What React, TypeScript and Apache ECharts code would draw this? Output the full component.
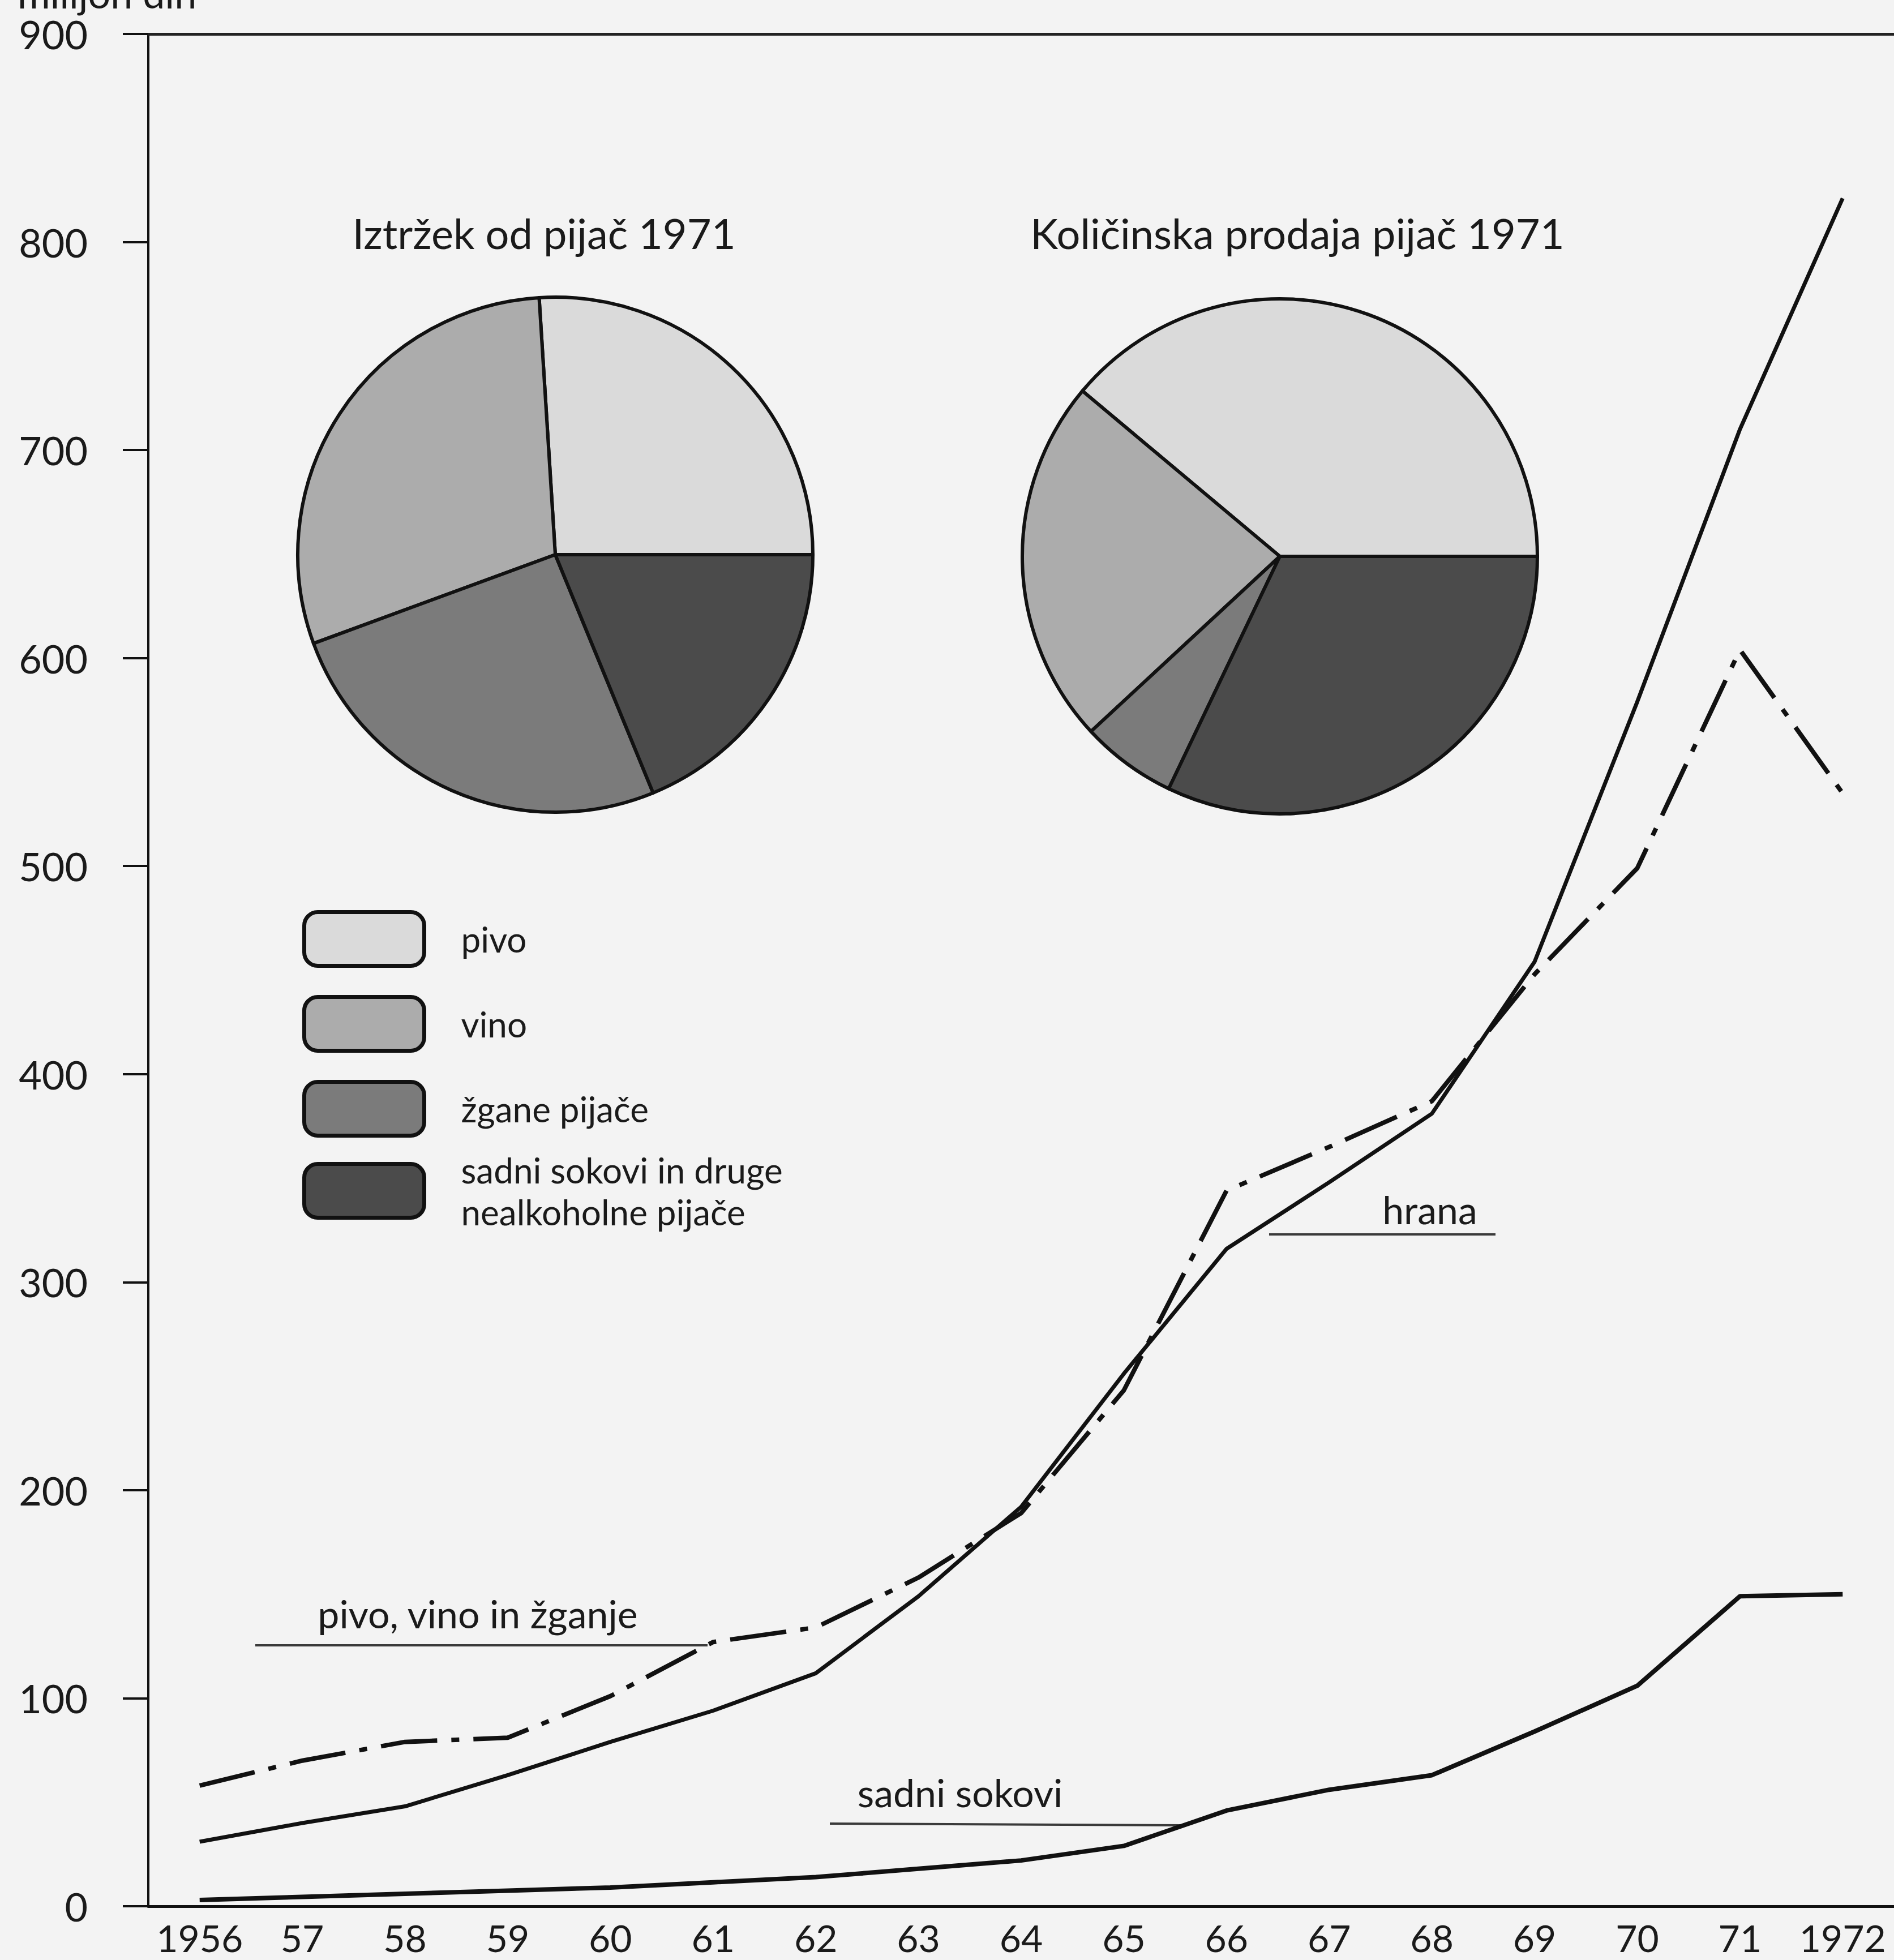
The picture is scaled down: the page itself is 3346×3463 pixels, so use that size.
import React, { useEffect, useRef } from 'react';
import * as echarts from 'echarts';

const years = ['1956', '57', '58', '59', '60', '61', '62', '63', '64', '65', '66', '67', '68', '69', '70', '71', '1972'];
const hrana = [31, 40, 48, 63, 79, 94, 112, 149, 192, 256, 316, 348, 381, 454, 579, 710, 821];
const pivoVinoZganje = [58, 70, 79, 81, 101, 127, 134, 158, 189, 248, 344, 365, 387, 448, 499, 604, 535];
const sadniSokovi = [3, 4.5, 6, 7.5, 9, 11.5, 14, 18, 22, 29, 46, 56, 63, 84, 106, 149, 150];

const pieNames = ['pivo', 'vino', 'žgane pijače', 'sadni sokovi in druge nealkoholne pijače'];
const pieColors = ['#dadada', '#acacac', '#7b7b7b', '#4b4b4b'];
const iztrzek1971 = [26.0, 29.6, 25.6, 18.8];
const kolicina1971 = [38.9, 23.0, 6.0, 32.1];

const FONT = 'Lato';
const INK = '#1a1a1a';

export default function App() {
  const ref = useRef<HTMLDivElement>(null);
  useEffect(() => {
    const chart = echarts.init(ref.current!, null, { renderer: 'svg' });
    const pieSeries = (center: number[], values: number[]) => ({
      type: 'pie',
      center,
      radius: 455,
      startAngle: 0,
      clockwise: false,
      silent: true,
      label: { show: false },
      labelLine: { show: false },
      itemStyle: { borderColor: '#111', borderWidth: 6 },
      data: pieNames.map((n, i) => ({ name: n, value: values[i], itemStyle: { color: pieColors[i] } })),
      z: 5,
    });
    const txt = (text: string, x: number, y: number, size: number, align: string, lh?: number) => ({
      type: 'text',
      x,
      y,
      silent: true,
      style: {
        text,
        fontSize: size,
        fontFamily: FONT,
        fill: INK,
        align,
        verticalAlign: 'middle',
        lineHeight: lh ?? size,
      },
    });
    const leader = (x1: number, y1: number, x2: number, y2: number) => ({
      type: 'line',
      silent: true,
      shape: { x1, y1, x2, y2 },
      style: { stroke: '#3a3a3a', lineWidth: 4 },
    });
    const legendBase = {
      left: 534,
      orient: 'vertical',
      padding: 0,
      itemWidth: 212,
      itemHeight: 95,
      itemGap: 48,
      icon: 'roundRect',
      selectedMode: false,
      itemStyle: { borderColor: '#111', borderWidth: 7 },
      textStyle: { fontSize: 62, fontFamily: FONT, color: INK, padding: [0, 0, 0, 60], lineHeight: 74 },
      formatter: (n: string) =>
        n === 'sadni sokovi in druge nealkoholne pijače' ? 'sadni sokovi in druge\nnealkoholne pijače' : n,
    };
    chart.setOption({
      animation: false,
      backgroundColor: '#f3f3f3',
      textStyle: { fontFamily: FONT },
      grid: { left: 262, top: 60, width: 3106, height: 3308 },
      legend: [
        { ...legendBase, top: 1608, data: pieNames.slice(0, 3) },
        { ...legendBase, top: 2030, data: pieNames.slice(3) },
      ],
      xAxis: [
        {
          type: 'category',
          data: years,
          boundaryGap: true,
          axisLine: { lineStyle: { color: '#111', width: 5 } },
          axisTick: { inside: true, length: 43, lineStyle: { color: '#111', width: 4 } },
          axisLabel: { interval: 0, fontSize: 66, lineHeight: 54, fontFamily: FONT, color: INK, margin: 28 },
          splitLine: { show: false },
        },
        {
          type: 'category',
          data: years,
          position: 'top',
          axisLine: { lineStyle: { color: '#222', width: 5 } },
          axisTick: { show: false },
          axisLabel: { show: false },
          splitLine: { show: false },
        },
      ],
      yAxis: {
        type: 'value',
        min: 0,
        max: 900,
        interval: 100,
        axisLine: { show: true, lineStyle: { color: '#111', width: 4 } },
        axisTick: { show: true, length: 45, lineStyle: { color: '#111', width: 4 } },
        axisLabel: { fontSize: 70, lineHeight: 56, fontFamily: FONT, color: INK, margin: 107 },
        splitLine: { show: false },
      },
      series: [
        {
          name: 'hrana',
          type: 'line',
          data: hrana,
          symbol: 'none',
          silent: true,
          lineStyle: { color: '#111', width: 7 },
        },
        {
          name: 'pivo, vino in žganje',
          type: 'line',
          data: pivoVinoZganje,
          symbol: 'none',
          silent: true,
          lineStyle: { color: '#111', width: 8, type: [100, 25, 14, 25] },
        },
        {
          name: 'sadni sokovi',
          type: 'line',
          data: sadniSokovi,
          symbol: 'none',
          silent: true,
          lineStyle: { color: '#111', width: 8 },
        },
        pieSeries([981, 980], iztrzek1971),
        pieSeries([2261, 983], kolicina1971),
      ],
      graphic: [
        txt('milijon din', 31, -12, 70, 'left', 44),
        txt('Iztržek od pijač 1971', 961, 411, 74, 'center'),
        txt('Količinska prodaja pijač 1971', 2292, 411, 74, 'center'),
        txt('hrana', 2526, 2136, 68, 'center'),
        txt('pivo, vino in žganje', 844, 2850, 68, 'center'),
        txt('sadni sokovi', 1696, 3166, 68, 'center'),
        leader(2242, 2181, 2642, 2181),
        leader(451, 2907, 1250, 2907),
        leader(1466, 3222, 2087, 3225),
      ],
    });
    return () => chart.dispose();
  }, []);
  return <div ref={ref} style={{ position: 'fixed', left: 0, top: 0, width: 3346, height: 3463 }} />;
}
